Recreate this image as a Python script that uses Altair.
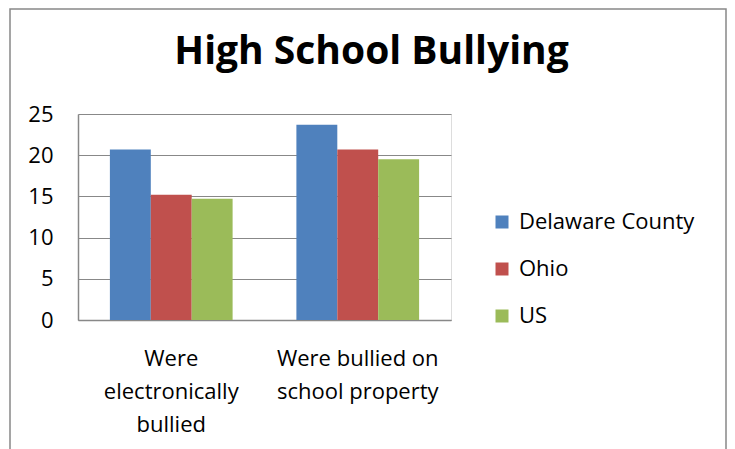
import altair as alt
import pandas as pd

categories = ["Were\nelectronically\nbullied", "Were bullied on\nschool property"]
groups = ["Delaware County", "Ohio", "US"]
delaware = [20.7, 23.7]
ohio = [15.2, 20.7]
us = [14.7, 19.5]
colors = ["#4F81BD", "#C0504D", "#9BBB59"]
y_ticks = [0, 5, 10, 15, 20, 25]

rows = []
for g, vals in zip(groups, [delaware, ohio, us]):
    for c, v in zip(categories, vals):
        rows.append({"category": c, "group": g, "value": v})
df = pd.DataFrame(rows)

FONT = "Open Sans"
GRAY = "#888888"

bars = alt.Chart(df).mark_bar().encode(
    x=alt.X("category:N", sort=categories, title=None,
            scale=alt.Scale(paddingInner=0.342, paddingOuter=0.171),
            axis=alt.Axis(labelAngle=0, ticks=False, grid=False, labelFont=FONT, labelFontSize=22,
                          labelColor="black", labelLineHeight=33, labelPadding=28,
                          domainColor=GRAY, domainWidth=1.5,
                          labelExpr="split(datum.label, '\\n')")),
    xOffset=alt.XOffset("group:N", sort=groups,
                        scale=alt.Scale(paddingInner=0, paddingOuter=0)),
    y=alt.Y("value:Q", title=None,
            scale=alt.Scale(domain=[0, 25], nice=False),
            axis=alt.Axis(values=y_ticks, ticks=False, labelFont=FONT, labelFontSize=22,
                          labelColor="black", labelPadding=25,
                          gridColor=GRAY, gridWidth=1.2, domainColor=GRAY, domainWidth=1.5)),
    color=alt.Color("group:N", sort=groups,
                    scale=alt.Scale(domain=groups, range=colors),
                    legend=alt.Legend(title=None, orient="none", legendX=413, legendY=97,
                                      symbolType="square", symbolSize=169, symbolStrokeWidth=0,
                                      labelFont=FONT, labelFontSize=22, labelColor="black",
                                      labelOffset=6, rowPadding=25, labelLimit=300)),
)

frame = alt.Chart(alt.Data(values=[{}])).mark_rect(
    fill="transparent", stroke=GRAY, strokeWidth=1.5
).encode(
    x=alt.value(-68), x2=alt.value(648), y=alt.value(-105), y2=alt.value(340)
)

chart = alt.layer(frame, bars).properties(
    width=373, height=206,
    title=alt.TitleParams("High School Bullying", font=FONT, fontSize=39, fontWeight="bold",
                          color="black", anchor="middle", dx=107, offset=0,
                          baseline="alphabetic", dy=95),
    autosize=alt.AutoSizeParams(type="none"),
    padding={"left": 70, "top": 106, "right": 276, "bottom": 129},
).configure_view(stroke="transparent", strokeWidth=0, fill="transparent").configure(background="white")

chart.save("out.html", embed_options={"renderer": "svg", "actions": False})
